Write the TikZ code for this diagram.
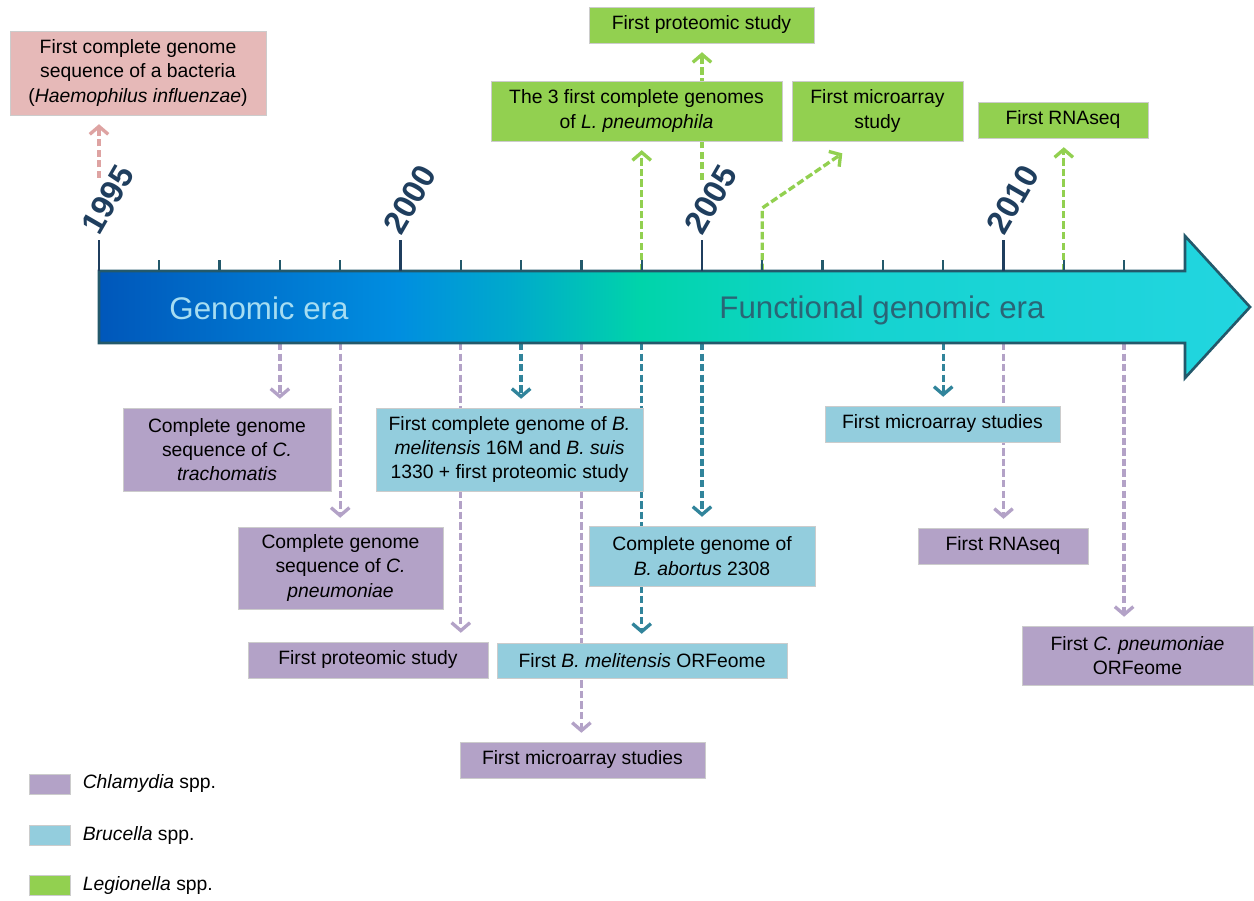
\documentclass[tikz,border=0pt]{standalone}
\usepackage{fontspec}
\setmainfont{Liberation Sans}
\usetikzlibrary{arrows.meta,positioning,calc}

\definecolor{chlam}{HTML}{B3A2C7}
\definecolor{bruc}{HTML}{93CDDD}
\definecolor{legio}{HTML}{92D050}
\definecolor{haem}{HTML}{E6B9B8}
\definecolor{bruline}{HTML}{31849B}
\definecolor{haemline}{HTML}{DEA3A2}
\definecolor{rim}{HTML}{23596B}
\definecolor{yearcol}{HTML}{1F3E5E}
\definecolor{fgtext}{HTML}{2A6576}
\definecolor{gtext}{HTML}{A6DDF2}
\definecolor{sh0}{HTML}{0057BA}
\definecolor{sh1}{HTML}{008EE0}
\definecolor{sh2}{HTML}{00AACB}
\definecolor{sh3}{HTML}{00D4AA}
\definecolor{sh4}{HTML}{15D3D0}
\definecolor{sh5}{HTML}{22D5E0}
\pgfdeclarehorizontalshading{eraband}{100bp}{color(0bp)=(sh0); color(25bp)=(sh0);
  color(38bp)=(sh1); color(43bp)=(sh2); color(48.5bp)=(sh3); color(58bp)=(sh4);
  color(75bp)=(sh5); color(100bp)=(sh5)}
\pgfdeclarelayer{bg}
\pgfsetlayers{bg,main}

\begin{document}
\begin{tikzpicture}[x=0.02cm, y=-0.02cm,
    box/.style={draw=gray!40, line width=0.5pt, align=center, inner sep=1pt,
      font=\fontsize{11}{13.8}\selectfont},
    chl/.style={box, fill=chlam},
    bru/.style={box, fill=bruc},
    leg/.style={box, fill=legio},
    link/.style={line width=1.9pt, dash pattern=on 4.2pt off 1.8pt,
      -{Straight Barb[length=4.5pt,width=10.5pt]}, shorten >=5pt},
    year/.style={rotate=60, anchor=south west, inner sep=0pt, text=yearcol,
      font=\fontsize{18.5}{20}\selectfont\bfseries},
    key/.style={minimum width=0.82cm, minimum height=0.4cm, inner sep=0pt},
    keytext/.style={inner sep=0pt, font=\fontsize{11}{13.8}\selectfont}]
  \useasboundingbox (0,0) rectangle (1254,901);

  % time arrow
  \shadedraw[shading=eraband, draw=rim, line width=1.5pt, line join=miter]
    (99,271) -- (1185,271) -- (1185,236) -- (1250,307) -- (1185,378)
    -- (1185,343) -- (99,343) -- cycle;
  \node[text=gtext, font=\fontsize{17.8}{20}\selectfont] (genomic) at (259,308) {Genomic era};
  \node[text=fgtext, font=\fontsize{17.8}{20}\selectfont] (functional) at (882,310) {Functional genomic era};

  \foreach \i in {0,...,17} {
    \coordinate (t\i) at ({99+60.3*\i},271);
    \coordinate (b\i) at ({99+60.3*\i},343);
    \draw[rim, line width=1.3pt] (t\i) -- ++(0,-11);
  }
  \foreach \i/\yr in {0/1995,5/2000,10/2005,15/2010} {
    \draw[yearcol, line width=1.5pt] (t\i) -- ++(0,-31);
    \node[year] at ($(t\i)+(1,-34)$) {\yr};
  }

  % events above
  \node[box, fill=haem, minimum width=5.12cm, minimum height=1.68cm] (haemo) at (138,73)
    {First complete genome\\ sequence of a bacteria\\ (\textit{Haemophilus influenzae})};
  \node[leg, minimum width=4.5cm, minimum height=0.72cm] (lgprot) at (701.5,25) {First proteomic study};
  \node[leg, minimum width=5.82cm, minimum height=1.2cm] (lggen) at (636.5,111)
    {The 3 first complete genomes\\ of \textit{L. pneumophila}};
  \node[leg, minimum width=3.42cm, minimum height=1.2cm] (lgmic) at (877.5,111) {First microarray\\ study};
  \node[leg, minimum width=3.4cm, minimum height=0.72cm] (lgrna) at (1063,120) {First RNAseq};

  % events below
  \node[chl, minimum width=4.16cm, minimum height=1.66cm] (chtrach) at (227,449.5)
    {Complete genome\\ sequence of \textit{C.}\\ \textit{trachomatis}};
  \node[chl, minimum width=4.1cm, minimum height=1.64cm] (chpneu) at (340.5,568)
    {Complete genome\\ sequence of \textit{C.}\\ \textit{pneumoniae}};
  \node[bru, minimum width=5.34cm, minimum height=1.66cm] (brfirst) at (509.5,449.5)
    {First complete genome of \textit{B.}\\ \textit{melitensis} 16M and \textit{B. suis}\\ 1330 + first proteomic study};
  \node[chl, minimum width=4.8cm, minimum height=0.72cm] (chprot) at (368,660) {First proteomic study};
  \node[bru, minimum width=4.52cm, minimum height=1.2cm] (brabort) at (702,556)
    {Complete genome of\\ \textit{B. abortus} 2308};
  \node[bru, minimum width=5.8cm, minimum height=0.7cm] (brorf) at (642,660.5)
    {First \textit{B. melitensis} ORFeome};
  \node[chl, minimum width=4.9cm, minimum height=0.72cm] (chmic) at (582.5,760) {First microarray studies};
  \node[bru, minimum width=4.7cm, minimum height=0.72cm] (brmic) at (942.5,424) {First microarray studies};
  \node[chl, minimum width=3.4cm, minimum height=0.72cm] (chrna) at (1003,546) {First RNAseq};
  \node[chl, minimum width=4.62cm, minimum height=1.18cm] (chorf) at (1137.5,655.5)
    {First \textit{C. pneumoniae}\\ ORFeome};

  % connectors
  \begin{pgfonlayer}{bg}
    \draw[link, haemline] ($(t0)+(0,-93)$) -- (t0 |- haemo.south);
    \draw[link, legio] (t9) -- (t9 |- lggen.south);
    \draw[link, legio] ($(t10)+(0,-91)$) -- (t10 |- lgprot.south);
    \draw[link, legio] (t11) -- ++(0,-63) -- ([shift={(58,7)}]lgmic.south west);
    \draw[link, legio] (t16) -- (t16 |- lgrna.south);
    \draw[link, chlam] (b3) -- (b3 |- chtrach.north);
    \draw[link, chlam] (b4) -- (b4 |- chpneu.north);
    \draw[link, chlam] (b6) -- (b6 |- chprot.north);
    \draw[link, chlam] (b8) -- (b8 |- chmic.north);
    \draw[link, chlam] (b15) -- (b15 |- chrna.north);
    \draw[link, chlam] (b17) -- (b17 |- chorf.north);
    \draw[link, bruline] (b7) -- (b7 |- brfirst.north);
    \draw[link, bruline] (b9) -- (b9 |- brorf.north);
    \draw[link, bruline] (b10) -- (b10 |- brabort.north);
    \draw[link, bruline] (b14) -- (b14 |- brmic.north);
  \end{pgfonlayer}

  % legend
  \node[chl, key] (keychl) at (49.5,784) {};
  \node[bru, key, below=0.62cm of keychl] (keybru) {};
  \node[leg, key, below=0.58cm of keybru] (keyleg) {};
  \node[keytext, right=0.24cm of keychl] {\textit{Chlamydia} spp.};
  \node[keytext, right=0.24cm of keybru] {\textit{Brucella} spp.};
  \node[keytext, right=0.24cm of keyleg] {\textit{Legionella} spp.};
\end{tikzpicture}
\end{document}
